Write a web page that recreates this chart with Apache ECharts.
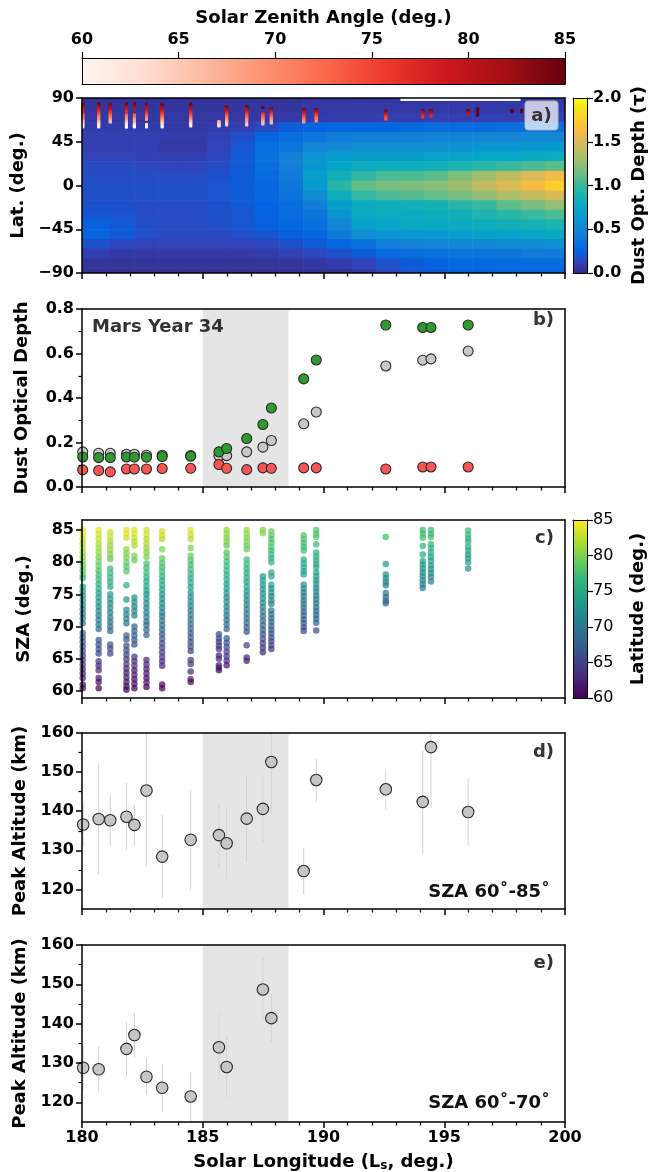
<!DOCTYPE html>
<html>
<head>
<meta charset="utf-8">
<script src="https://cdn.jsdelivr.net/npm/echarts@6/dist/echarts.min.js"></script>
<style>
  html, body { margin: 0; background: #fff; }
  #main { width: 650px; height: 1172px; }
</style>
</head>
<body>
<div id="main"></div>
<script>
// ---------- data ----------
// observation times (Ls) shared by panels a, b, c
var lsObs = [180.03, 180.69, 181.17, 181.84, 182.17, 182.67, 183.32, 184.5, 185.67, 185.99,
             186.82, 187.49, 187.84, 189.18, 189.7, 192.58, 194.11, 194.45, 195.99];

// panel b: dust optical depth
var tauGrey  = [0.158, 0.152, 0.152, 0.147, 0.147, 0.143, 0.143, 0.141, 0.140, 0.141,
                0.158, 0.179, 0.209, 0.284, 0.337, 0.544, 0.570, 0.576, 0.611];
var tauGreen = [0.135, 0.132, 0.132, 0.135, 0.134, 0.134, 0.137, 0.138, 0.158, 0.173,
                0.218, 0.281, 0.355, 0.486, 0.571, 0.728, 0.717, 0.717, 0.728];
var tauRed   = [0.077, 0.074, 0.068, 0.081, 0.081, 0.081, 0.083, 0.084, 0.101, 0.084,
                0.078, 0.086, 0.084, 0.086, 0.086, 0.081, 0.090, 0.090, 0.090];
var stormShade = [185, 188.55];

// panel c (and the marks of panel a): [SZA, latitude] per observation column
var szaObs = [
  [[85,84],[84.3,84],[83.6,83],[82.9,82],[82.2,82],[81.5,81],[80.8,80],[80.1,80],[79.4,79],[78.7,78],[78,78],[77.5,77],[76.2,74],[75.5,74],[74.8,73],[74.1,73],[73.4,72],[72.7,71],[72,71],[71.3,70],[70.5,70],[69,68],[68.3,67],[67.6,67],[66.9,66],[66.2,66],[65.5,65],[64.8,64],[64.1,64],[63.4,63],[62.7,62],[62,62],[61,61],[60.4,60]],
  [[85,84],[84.3,83],[83.6,83],[82.9,82],[82.2,81],[81.5,81],[80.8,80],[80.1,79],[79.4,79],[78.7,78],[78,77],[77.3,77],[76.6,76],[75.9,75],[75.2,74],[74.5,74],[73.8,73],[73.1,72],[72.4,72],[71.7,71],[71,70],[70.3,70],[69.6,69],[67.9,67],[67.2,66],[66.5,66],[65.8,65],[64.6,64],[63.9,63],[63.2,63],[62,62],[61.4,61],[60.4,60]],
  [[84.7,83],[84,83],[83.3,82],[82.6,81],[81.9,81],[81.2,80],[80.5,79],[79,77],[78.3,77],[77.6,76],[76.9,75],[76.2,75],[75,74],[74.3,73],[73.6,72],[72.9,72],[72.2,71],[71.4,70],[70.7,70],[70,69],[69.3,68],[67.2,67],[66.6,66],[65.8,65]],
  [[85,84],[84.4,84],[83.8,83],[82,81],[81.4,80],[80.7,80],[80,79],[79.3,78],[78.6,78],[76.4,76],[74.2,73],[72.6,72],[71.9,71],[71.2,71],[70.5,70],[68.6,68],[68,67],[67,66],[66.3,66],[65.6,65],[64.9,64],[64.2,64],[63.5,63],[62.8,62],[62.1,62],[61.4,61],[60.7,60],[60.2,60]],
  [[85,84],[84.4,84],[83.8,83],[83.2,82],[82.6,82],[81,80],[80.3,79],[74.5,73],[73.8,72],[73.1,72],[72.4,71],[71.7,71],[70,69],[69.3,68],[68.6,68],[67.9,67],[67.2,66],[65.3,64],[64.6,63],[63.9,63],[63.2,62],[62.5,62],[61.8,61],[61.1,61],[60.4,60]],
  [[85,83],[84.3,83],[83.6,82],[82.9,82],[82.2,81],[81.5,80],[80.8,80],[79.8,78],[79.1,77],[78.4,77],[77.7,76],[77,75],[76.3,75],[75.6,74],[75,73],[74.3,73],[73.6,72],[72.9,71],[72.2,71],[71.5,70],[70.8,69],[70.2,69],[69.5,68],[68.7,68],[64.8,63],[64.1,63],[63.4,62],[62.7,62],[62,61],[61.3,61],[60.6,60]],
  [[84.8,83],[84.2,83],[83.6,82],[82,80],[80.6,79],[79.9,78],[79.2,77],[78.5,77],[77.8,76],[77.1,75],[76.4,75],[75.7,74],[75,73],[74.3,72],[73.6,72],[72.9,71],[72.2,70],[71.6,70],[70.9,69],[70.2,69],[69.5,68],[68.8,67],[68.1,67],[67.4,66],[66.7,65],[66,65],[65.3,64],[64.6,63],[63.9,63],[61,61],[60.4,60]],
  [[85,84],[84.3,83],[83.6,82],[82.2,80],[81,79],[80.3,78],[79.6,77],[78.9,77],[78.2,76],[77.5,75],[76.8,75],[76.1,74],[75.3,73],[74.6,72],[73.9,72],[73.2,71],[72.5,70],[71.8,70],[71.1,69],[70.4,69],[69.7,68],[69,67],[68.3,67],[67.6,66],[66.9,66],[66.2,65],[64.8,64],[64.2,64],[63,63],[61.8,62],[61.4,61]],
  [[68.8,66],[68.2,66],[67.6,65],[67,65],[66.5,64],[65.5,63],[65,63],[64,62],[63.6,62],[63.2,61]],
  [[85,81],[84.4,81],[83.8,80],[83.2,80],[82.6,79],[81.5,78],[80.8,78],[80.1,77],[79.4,77],[78.7,76],[78,75],[77.3,75],[76.6,74],[75.9,74],[75.2,73],[74.5,72],[73.8,72],[73.1,71],[72.4,71],[71.7,70],[71,69],[70.3,69],[69.6,68],[68.2,67],[67.5,66],[66.8,66],[66.1,65],[65.4,64],[64.7,63],[64,62]],
  [[85,81],[84.4,81],[83.8,80],[83.2,80],[82.6,79],[82,79],[80.4,77],[79.7,77],[79,76],[78.3,75],[77.6,75],[76.9,74],[76.2,74],[75.5,73],[74.8,72],[74.1,72],[73.4,71],[72.7,70],[72,70],[71.3,69],[70.6,68],[69.9,68],[69.2,67],[67.1,65],[65.2,63],[64.7,62]],
  [[85,80],[84.5,80],[77.8,74],[77.2,74],[76.5,73],[75.8,73],[75.1,72],[74.4,72],[73.7,71],[73,70],[72.3,70],[71.6,69],[70.9,68],[70.2,68],[69.5,67],[68.8,66],[68.1,66],[67.4,65],[66.7,64],[66,63]],
  [[84.8,79],[84.2,79],[83.6,78],[83,78],[82.4,78],[81.8,77],[81.2,77],[80.6,76],[80,76],[78.4,75],[77.8,75],[76.5,74],[75.9,73],[75.3,73],[74.7,72],[74.1,72],[73.5,71],[72.5,70],[71.9,70],[71.3,69],[70.7,69],[70.1,68],[69.5,68],[68.9,67],[68.3,66],[67.7,66],[67.1,65],[66.5,64]],
  [[84.2,78],[83.6,78],[83,77],[82.4,77],[81.8,77],[80.4,75],[79.8,75],[79.2,75],[78.6,74],[78.1,74],[76.5,72],[75.9,72],[75.3,71],[74.7,71],[74.1,70],[73.5,70],[72.9,69],[72.3,68],[71.7,68],[71.1,67],[70.5,67],[69.9,66],[69.3,65]],
  [[85,78],[84.4,78],[83.9,78],[82.8,77],[81.5,76],[80.9,76],[80.3,75],[79.7,75],[79.2,75],[78.4,74],[77.8,74],[77.2,73],[76.6,73],[76,72],[75.4,72],[74.8,71],[74.2,71],[73.6,70],[73,70],[72.4,69],[71.8,69],[71.2,68],[70.6,68],[69.4,66]],
  [[83.9,77],[79.7,74],[78.1,72],[77.5,72],[76.9,71],[76.4,71],[75.2,70],[74.6,69],[74,69],[73.6,68]],
  [[85,77],[84.4,77],[83.8,77],[82.5,76],[81.2,75],[80.2,74],[79.6,73],[79,73],[78.4,72],[77.8,72],[77.2,71],[76.6,71],[76,70]],
  [[85,77],[84.4,77],[83.9,77],[82.8,76],[82.2,76],[81.5,75],[80.8,74],[80.2,74],[79.5,73],[78.9,73],[78.3,72],[77.7,72],[77,71]],
  [[84.9,77],[84.3,77],[83.7,76],[83.2,76],[82.4,75],[81.8,75],[81.2,74],[80.6,74],[80,74],[79,73]]
];
// panel a only: observations above SZA 85 (drawn in the darkest colour)
var extraLs  = [196.38, 197.8, 198.2];
var extraLat = [[79, 78, 77, 76, 75, 74, 73, 72], [77.5, 76.5, 75.5], [77.5, 76.5, 75.5]];
var extraSza = [85, 85, 85];

// panel a: dust optical depth map, rows north -> south, columns by Ls
var dustLsEdges = [179.16, 180.16, 181.16, 182.16, 183.16, 184.16, 185.16, 186.16, 187.16, 188.16, 189.16,
                   190.16, 191.16, 192.16, 193.16, 194.16, 195.16, 196.16, 197.16, 198.16, 199.16, 200.16];
var dustLatEdges = [90, 87, 85, 75, 65, 55, 45, 35, 25, 15, 5, -5, -15, -25, -35, -45, -55, -65, -75, -85, -90];
var dust = [
  [0.05,0.05,0.05,0.05,0.05,0.05,0.05,0.05,0.05,0.05,0.05,0.05,0.06,0.06,null,null,null,null,null,0.07,0.07],
  [0.05,0.05,0.05,0.05,0.05,0.05,0.05,0.05,0.05,0.05,0.06,0.06,0.06,0.06,0.06,0.06,0.07,0.07,0.07,0.07,0.07],
  [0.06,0.06,0.06,0.06,0.06,0.06,0.06,0.06,0.06,0.06,0.07,0.07,0.07,0.07,0.07,0.07,0.08,0.08,0.08,0.08,0.08],
  [0.07,0.07,0.07,0.07,0.07,0.07,0.07,0.07,0.08,0.08,0.09,0.09,0.09,0.1,0.1,0.1,0.1,0.11,0.11,0.11,0.12],
  [0.09,0.09,0.09,0.09,0.08,0.08,0.09,0.1,0.15,0.22,0.26,0.28,0.28,0.28,0.29,0.3,0.3,0.31,0.32,0.33,0.34],
  [0.1,0.1,0.1,0.1,0.09,0.09,0.11,0.17,0.28,0.33,0.38,0.42,0.45,0.45,0.45,0.47,0.48,0.5,0.5,0.52,0.52],
  [0.1,0.1,0.1,0.1,0.08,0.08,0.12,0.2,0.33,0.38,0.5,0.52,0.55,0.55,0.55,0.57,0.58,0.6,0.6,0.62,0.63],
  [0.12,0.12,0.12,0.11,0.1,0.1,0.14,0.21,0.35,0.45,0.6,0.65,0.68,0.68,0.68,0.7,0.72,0.75,0.75,0.78,0.8],
  [0.15,0.15,0.15,0.14,0.13,0.13,0.16,0.21,0.33,0.45,0.62,0.75,0.8,0.82,0.82,0.85,0.9,0.95,1.0,1.05,1.1],
  [0.16,0.16,0.16,0.16,0.16,0.16,0.18,0.22,0.3,0.42,0.68,0.85,0.98,1.05,1.05,1.1,1.2,1.3,1.4,1.5,1.6],
  [0.17,0.17,0.17,0.17,0.17,0.17,0.19,0.22,0.28,0.4,0.65,0.95,1.12,1.18,1.2,1.22,1.3,1.42,1.52,1.62,1.76],
  [0.17,0.17,0.17,0.17,0.17,0.17,0.19,0.22,0.27,0.36,0.55,0.82,0.98,1.05,1.08,1.12,1.18,1.25,1.35,1.42,1.5],
  [0.18,0.18,0.18,0.16,0.16,0.16,0.18,0.21,0.26,0.32,0.45,0.68,0.8,0.82,0.85,0.88,0.95,1.0,1.1,1.18,1.25],
  [0.2,0.2,0.19,0.16,0.16,0.16,0.18,0.2,0.25,0.3,0.38,0.6,0.78,0.8,0.8,0.82,0.85,0.9,0.95,1.0,1.05],
  [0.24,0.24,0.21,0.17,0.16,0.16,0.17,0.2,0.24,0.28,0.33,0.5,0.72,0.75,0.78,0.78,0.8,0.82,0.85,0.88,0.9],
  [0.27,0.27,0.22,0.17,0.15,0.15,0.15,0.17,0.2,0.24,0.28,0.42,0.55,0.6,0.62,0.65,0.68,0.7,0.72,0.75,0.78],
  [0.18,0.18,0.14,0.12,0.12,0.12,0.12,0.12,0.14,0.18,0.22,0.28,0.35,0.45,0.48,0.5,0.52,0.52,0.55,0.55,0.58],
  [0.1,0.1,0.08,0.08,0.08,0.08,0.08,0.08,0.09,0.11,0.14,0.18,0.22,0.3,0.32,0.35,0.38,0.38,0.4,0.42,0.42],
  [0.05,0.05,0.05,0.05,0.05,0.05,0.05,0.05,0.05,0.05,0.07,0.09,0.12,0.18,0.22,0.25,0.27,0.28,0.3,0.3,0.3],
  [0.04,0.04,0.04,0.04,0.04,0.04,0.04,0.04,0.04,0.04,0.04,0.04,0.08,0.14,0.2,0.22,0.25,0.25,0.27,0.27,0.27]
];

// panel d: peak altitude, SZA 60-85
var lsD  = [179.93, 180.05, 180.69, 181.17, 181.84, 182.17, 182.67, 183.32, 184.5, 185.67,
            185.99, 186.82, 187.49, 187.84, 189.18, 189.7, 192.58, 194.11, 194.45, 195.99];
var altD = [138.6, 136.6, 138.0, 137.7, 138.6, 136.5, 145.3, 128.4, 132.7, 133.9,
            131.8, 138.1, 140.6, 152.6, 124.7, 148.0, 145.6, 142.4, 156.4, 139.8];
var loD  = [132.0, 131.0, 123.8, 131.1, 130.0, 131.2, 126.1, 117.9, 119.7, 125.5,
            122.7, 127.0, 132.1, 139.0, 118.7, 142.3, 140.4, 129.2, 140.8, 131.2];
var hiD  = [145.0, 142.0, 152.2, 144.2, 147.2, 141.6, 164.5, 139.0, 145.5, 142.1,
            140.9, 149.2, 149.1, 166.2, 130.7, 153.4, 150.9, 155.6, 172.0, 148.3];

// panel e: peak altitude, SZA 60-70
var lsE  = [179.93, 180.05, 180.69, 181.84, 182.17, 182.67, 183.32, 184.5, 185.67, 185.99, 187.49, 187.84];
var altE = [133.3, 128.8, 128.4, 133.6, 137.1, 126.5, 123.7, 121.5, 134.0, 129.0, 148.7, 141.4];
var loE  = [127.0, 123.0, 122.7, 126.5, 131.4, 121.9, 117.6, 115.2, 125.6, 121.2, 140.8, 135.2];
var hiE  = [139.5, 134.5, 134.1, 140.5, 142.7, 131.4, 129.8, 127.8, 142.4, 136.7, 156.8, 147.7];

// tick labels
var szaTicks = [60, 65, 70, 75, 80, 85];
var altTicks = [120, 130, 140, 150, 160];
var altMinor = [125, 135, 145, 155];

// colour maps
var parula = ['#352a87','#3243ba','#0363e1','#0d75dc','#1485d4','#0998d1','#06a7c6','#15b1b4','#38b99e',
              '#65be86','#92bf73','#b7bd64','#d9ba56','#f8bb44','#fcce2e','#f5e41d','#f9fb0e'];
var viridis = ['#440154','#482878','#3e4989','#31688e','#26828e','#1f9e89','#35b779','#6ece58','#b5de2b','#fde725'];
var reds = ['#fff5f0','#fee0d2','#fcbba1','#fc9272','#fb6a4a','#ef3b2c','#cb181d','#a50f15','#67000d'];

// ---------- build ----------
var FONT = 'DejaVu Sans';
var tickLbl = {fontFamily: FONT, fontWeight: 'bold', fontSize: 16, color: '#000'};
var nameLbl = {fontFamily: FONT, fontWeight: 'bold', fontSize: 18, color: '#000'};
var spine = {color: '#000', width: 1.5};

var grids = [], xAxes = [], yAxes = [], series = [];
function grid(top, height, left, width) {
  grids.push({left: left || 82, top: top, width: width || 483, height: height, outerBoundsMode: 'none', containLabel: false});
  return grids.length - 1;
}
function ax(list, gi, o) {
  var a = {gridIndex: gi, type: 'value', z: 10, splitLine: {show: false},
           axisLine: {show: true, onZero: false, lineStyle: spine},
           axisTick: {show: false}, axisLabel: {show: false}};
  for (var k in o) a[k] = o[k];
  list.push(a);
  return list.length - 1;
}
function frameX(gi, pos, w) { return ax(xAxes, gi, {position: pos, min: 0, max: 1, axisLine: {show: true, onZero: false, lineStyle: {color: '#000', width: w || 1.5}}}); }
function frameY(gi, pos, w) { return ax(yAxes, gi, {position: pos, min: 0, max: 1, axisLine: {show: true, onZero: false, lineStyle: {color: '#000', width: w || 1.5}}}); }
function lsAxis(gi, labels) {
  var o = {position: 'bottom', min: 180, max: 200, interval: 5,
    axisTick: {show: true, length: 6, lineStyle: {color: '#000', width: 1.5}},
    minorTick: {show: true, splitNumber: 5, length: 3.5, lineStyle: {color: '#000', width: 1.2}},
    axisLabel: Object.assign({show: labels, margin: 8}, tickLbl)};
  if (labels) {
    o.name = '{a|Solar Longitude (L}{s|s}{a|, deg.)}';
    o.nameLocation = 'middle';
    o.nameGap = 30;
    o.nameTextStyle = {rich: {a: nameLbl, s: {fontFamily: FONT, fontWeight: 'bold', fontSize: 12, color: '#000', padding: [8, 0, 0, 0]}}};
  }
  return ax(xAxes, gi, o);
}
function yName(o, name, gap) {
  o.name = name; o.nameLocation = 'middle'; o.nameGap = gap; o.nameRotate = 90; o.nameTextStyle = nameLbl;
  return o;
}
var majorTick = {show: true, length: 6, lineStyle: {color: '#000', width: 1.5}};
function minus(v) { return v < 0 ? '\u2212' + Math.abs(v) : String(v); }

// top colour bar (SZA)
var gCb = grid(58, 26);
var xCb = ax(xAxes, gCb, {position: 'top', min: 60, max: 85, interval: 5,
  axisLine: {show: true, onZero: false, lineStyle: {color: '#000', width: 1}},
  axisTick: {show: true, length: 6, lineStyle: {color: '#000', width: 1.2}},
  axisLabel: Object.assign({show: true, margin: 10}, tickLbl),
  name: 'Solar Zenith Angle (deg.)', nameLocation: 'middle', nameGap: 31, nameTextStyle: nameLbl});
frameX(gCb, 'bottom', 1);
var yCb = frameY(gCb, 'left', 1); frameY(gCb, 'right', 1);

// panel a
var gA = grid(98, 175);
var xA = lsAxis(gA, false); frameX(gA, 'top');
var yA = ax(yAxes, gA, yName({position: 'left', min: -90, max: 90, interval: 45, axisTick: majorTick,
  axisLabel: Object.assign({show: true, margin: 8, formatter: minus}, tickLbl)}, 'Lat. (deg.)', 49));
frameY(gA, 'right');

// panel b
var gB = grid(309, 178);
var xB = lsAxis(gB, false); frameX(gB, 'top');
var yB = ax(yAxes, gB, yName({position: 'left', min: 0, max: 0.8, interval: 0.2, axisTick: majorTick,
  minorTick: {show: true, splitNumber: 2, length: 3.5, lineStyle: {color: '#000', width: 1.2}},
  axisLabel: Object.assign({show: true, margin: 8, formatter: function (v) { return v.toFixed(1); }}, tickLbl)},
  'Dust Optical Depth', 51));
frameY(gB, 'right');

// panel c
var gC = grid(520, 178);
var xC = lsAxis(gC, false); frameX(gC, 'top');
var yC = ax(yAxes, gC, yName({position: 'left', min: 58.9, max: 86.55,
  axisTick: Object.assign({customValues: szaTicks}, majorTick),
  axisLabel: Object.assign({show: true, margin: 8, customValues: szaTicks}, tickLbl)}, 'SZA (deg.)', 49));
frameY(gC, 'right');

// panels d, e (+ overlaid grids for the minor ticks)
function altPanel(top, height, labels) {
  var g = grid(top, height);
  var x = lsAxis(g, labels); frameX(g, 'top');
  var y = ax(yAxes, g, yName({position: 'left', min: 115, max: 160,
    axisTick: Object.assign({customValues: altTicks}, majorTick),
    axisLabel: Object.assign({show: true, margin: 8, customValues: altTicks}, tickLbl)}, 'Peak Altitude (km)', 49));
  frameY(g, 'right');
  var gm = grid(top, height);
  ax(xAxes, gm, {show: false, min: 0, max: 1});
  ax(yAxes, gm, {position: 'left', min: 115, max: 160, axisLine: {show: false},
    axisTick: {show: true, customValues: altMinor, length: 3.5, lineStyle: {color: '#000', width: 1.2}}});
  return [x, y];
}
var pD = altPanel(733, 176, false);
var pE = altPanel(945, 177, true);

// right colour bars
var gCbA = grid(98, 175, 573, 14);
var xCbA = frameX(gCbA, 'top', 1); frameX(gCbA, 'bottom', 1); frameY(gCbA, 'left', 1);
var yCbA = ax(yAxes, gCbA, {position: 'right', min: 0, max: 2, interval: 0.5,
  axisLine: {show: true, onZero: false, lineStyle: {color: '#000', width: 1}},
  axisTick: {show: true, length: 6, lineStyle: {color: '#000', width: 1.2}},
  axisLabel: Object.assign({show: true, margin: 6, formatter: function (v) { return v.toFixed(1); }}, tickLbl),
  name: 'Dust Opt. Depth (\u03c4)', nameLocation: 'middle', nameGap: 43, nameRotate: 90, nameTextStyle: nameLbl});
var gCbC = grid(520, 178, 573, 14);
var xCbC = frameX(gCbC, 'top', 1); frameX(gCbC, 'bottom', 1); frameY(gCbC, 'left', 1);
var yCbC = ax(yAxes, gCbC, {position: 'right', min: 60, max: 85, interval: 5,
  axisLine: {show: true, onZero: false, lineStyle: {color: '#000', width: 1}},
  axisTick: {show: true, length: 6, lineStyle: {color: '#000', width: 1.2}},
  axisLabel: {show: true, margin: 6, fontFamily: FONT, fontSize: 16, color: '#000'},
  name: 'Latitude (deg.)', nameLocation: 'middle', nameGap: 42, nameRotate: 90, nameTextStyle: nameLbl});

// ---- series data ----
var cells = [];
dust.forEach(function (row, r) {
  row.forEach(function (v, c) {
    if (v === null) return;
    cells.push([dustLsEdges[c], dustLsEdges[c + 1], dustLatEdges[r + 1], dustLatEdges[r], v]);
  });
});
var marksA = [], pointsC = [];
lsObs.forEach(function (ls, i) {
  szaObs[i].forEach(function (p) {
    marksA.push([ls, p[1], p[0]]);
    pointsC.push([ls, p[0], p[1]]);
  });
});
extraLs.forEach(function (ls, i) {
  extraLat[i].forEach(function (lat) { marksA.push([ls, lat, extraSza[i]]); });
});
function zip() {
  var arrs = arguments;
  return arrs[0].map(function (_, i) {
    return Array.prototype.map.call(arrs, function (a) { return a[i]; });
  });
}

function shadeSeries(x, y) {
  return {type: 'custom', xAxisIndex: x, yAxisIndex: y, silent: true, z: 1, clip: true,
    data: [stormShade], encode: {x: [0, 1]},
    renderItem: function (params, api) {
      var cs = params.coordSys;
      var x0 = api.coord([api.value(0), 0])[0], x1 = api.coord([api.value(1), 0])[0];
      return {type: 'rect', shape: {x: x0, y: cs.y, width: x1 - x0, height: cs.height}, style: {fill: '#e5e5e5'}};
    }};
}
function errSeries(x, y, data) {
  return {type: 'custom', xAxisIndex: x, yAxisIndex: y, silent: true, z: 2, clip: true,
    data: data, encode: {x: 0, y: [1, 2]},
    renderItem: function (params, api) {
      var a = api.coord([api.value(0), api.value(1)]);
      var b = api.coord([api.value(0), api.value(2)]);
      return {type: 'line', shape: {x1: a[0], y1: a[1], x2: b[0], y2: b[1]}, style: {stroke: '#d2d2d2', lineWidth: 1}};
    }};
}
function dotSeries(x, y, data, color, size) {
  return {type: 'scatter', xAxisIndex: x, yAxisIndex: y, data: data, symbolSize: size, z: 4, clip: true,
    itemStyle: {color: color, borderColor: '#2a2a2a', borderWidth: 1.1, opacity: 1}};
}
function barSeries(x, y, range, colors, horizontal) {
  return {type: 'custom', xAxisIndex: x, yAxisIndex: y, silent: true, z: 1,
    data: [range], encode: horizontal ? {x: [0, 1]} : {y: [0, 1]},
    renderItem: function (params) {
      var cs = params.coordSys;
      var stops = colors.map(function (c, i) { return {offset: i / (colors.length - 1), color: c}; });
      var g = horizontal ? new echarts.graphic.LinearGradient(0, 0, 1, 0, stops)
                         : new echarts.graphic.LinearGradient(0, 1, 0, 0, stops);
      return {type: 'rect', shape: {x: cs.x, y: cs.y, width: cs.width, height: cs.height}, style: {fill: g}};
    }};
}

// 0 heat map
series.push({type: 'custom', xAxisIndex: xA, yAxisIndex: yA, data: cells, clip: true, z: 1,
  encode: {x: [0, 1], y: [2, 3]},
  renderItem: function (params, api) {
    var p0 = api.coord([api.value(0), api.value(3)]);
    var p1 = api.coord([api.value(1), api.value(2)]);
    return {type: 'rect', shape: {x: p0[0], y: p0[1], width: p1[0] - p0[0] + 0.6, height: p1[1] - p0[1] + 0.6},
            style: {fill: api.visual('color')}};
  }});
// 1 observation marks on the map
series.push({type: 'scatter', xAxisIndex: xA, yAxisIndex: yA, data: marksA, symbol: 'rect',
  symbolSize: [3, 2.5], z: 3, clip: true, itemStyle: {opacity: 1}});
// 2-5 panel b
series.push(shadeSeries(xB, yB));
series.push(dotSeries(xB, yB, zip(lsObs, tauGrey), '#c8c8c8', 10));
series.push(dotSeries(xB, yB, zip(lsObs, tauGreen), '#2f9a2f', 10));
series.push(dotSeries(xB, yB, zip(lsObs, tauRed), '#fb5454', 10));
// 6 panel c
series.push({type: 'scatter', xAxisIndex: xC, yAxisIndex: yC, data: pointsC, symbolSize: 6.5, z: 3, clip: true,
  itemStyle: {opacity: 0.72}});
// 7-9 panel d
series.push(shadeSeries(pD[0], pD[1]));
series.push(errSeries(pD[0], pD[1], zip(lsD, loD, hiD)));
series.push(dotSeries(pD[0], pD[1], zip(lsD, altD), '#c6c6c6', 11.5));
// 10-12 panel e
series.push(shadeSeries(pE[0], pE[1]));
series.push(errSeries(pE[0], pE[1], zip(lsE, loE, hiE)));
series.push(dotSeries(pE[0], pE[1], zip(lsE, altE), '#c6c6c6', 11.5));
// 13-15 colour bars
series.push(barSeries(xCb, yCb, [szaTicks[0], szaTicks[szaTicks.length - 1]], reds, true));
series.push(barSeries(xCbA, yCbA, [0, 2], parula, false));
series.push(barSeries(xCbC, yCbC, [szaTicks[0], szaTicks[szaTicks.length - 1]], viridis, false));

function label(text, x, y, align, extra) {
  var st = {text: text, x: x, y: y, font: 'bold 18px "DejaVu Sans"', fill: '#333',
            textAlign: align, textVerticalAlign: 'middle'};
  for (var k in extra) st[k] = extra[k];
  return {type: 'text', z: 30, style: st};
}

var chart = echarts.init(document.getElementById('main'), null, {renderer: 'canvas'});
chart.setOption({
  animation: false,
  backgroundColor: '#fff',
  textStyle: {fontFamily: FONT},
  grid: grids,
  xAxis: xAxes,
  yAxis: yAxes,
  visualMap: [
    {type: 'continuous', show: false, seriesIndex: 0, dimension: 4, min: 0, max: 2, inRange: {color: parula}},
    {type: 'continuous', show: false, seriesIndex: 1, dimension: 2, min: 60, max: 85, inRange: {color: reds}},
    {type: 'continuous', show: false, seriesIndex: 6, dimension: 2, min: 60, max: 85, inRange: {color: viridis}}
  ],
  series: series,
  graphic: [
    {type: 'rect', z: 29, shape: {x: 525, y: 101, width: 33, height: 29, r: 3},
     style: {fill: 'rgba(255,255,255,0.72)', stroke: '#b4b4b4', lineWidth: 1}},
    label('a)', 541.5, 116, 'center'),
    label('Mars Year 34', 92, 327, 'left'),
    label('b)', 554, 320, 'right'),
    label('c)', 554, 538, 'right'),
    label('d)', 554, 752, 'right'),
    label('e)', 554, 963, 'right'),
    label('SZA 60\u02da-85\u02da', 550, 892, 'right', {fill: '#111'}),
    label('SZA 60\u02da-70\u02da', 550, 1103, 'right', {fill: '#111'})
  ]
});
</script>
</body>
</html>
